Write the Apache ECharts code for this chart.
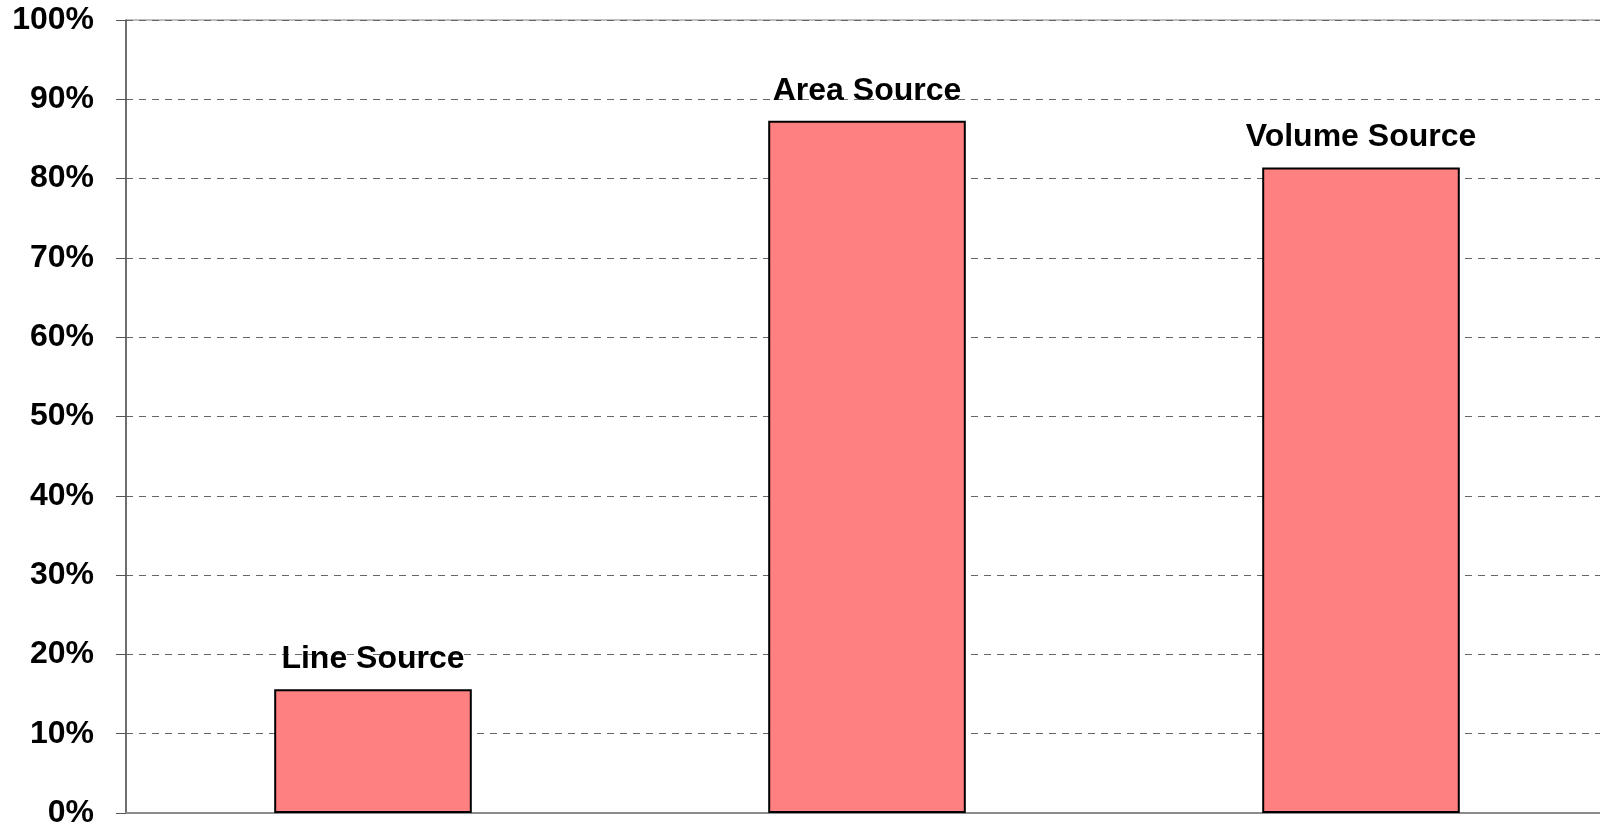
<!DOCTYPE html>
<html>
<head>
<meta charset="utf-8">
<script src="https://cdn.jsdelivr.net/npm/echarts@6/dist/echarts.min.js"></script>
<style>
  html, body { margin: 0; padding: 0; background: #fff; }
  #chart { width: 1600px; height: 829px; }
</style>
</head>
<body>
<div id="chart"></div>
<script>
// source types and their share (percent)
var categories = ['Line Source', 'Area Source', 'Volume Source']
var shares = [15.6, 87.3, 81.4]
var yTicks = [0, 10, 20, 30, 40, 50, 60, 70, 80, 90, 100]

var chart = echarts.init(document.getElementById('chart'))

var font = '"Liberation Sans", Arial, sans-serif'

chart.setOption({
    animation: false,
    grid: {
        left: 126,
        top: 20,
        bottom: 16,
        width: 1482,
        outerBoundsMode: 'none',
        containLabel: false,
        show: true,
        borderColor: '#808080',
        borderWidth: 1
    },
    xAxis: {
        type: 'category',
        data: categories,
        axisLine: { lineStyle: { color: '#8c8c8c', width: 2 } },
        axisTick: { show: false },
        axisLabel: { show: false }
    },
    yAxis: {
        type: 'value',
        min: yTicks[0],
        max: yTicks[yTicks.length - 1],
        interval: 10,
        axisLine: { show: true, lineStyle: { color: '#555', width: 1.5 } },
        axisTick: { show: true, length: 10, lineStyle: { color: '#555', width: 1 } },
        axisLabel: {
            margin: 32,
            color: '#000',
            fontFamily: font,
            fontWeight: 'bold',
            fontSize: 32,
            formatter: '{value}%'
        },
        splitLine: {
            show: true,
            lineStyle: { color: '#666', type: [7, 6], width: 1 }
        }
    },
    series: [{
        type: 'bar',
        data: shares,
        barWidth: '40%',
        itemStyle: {
            color: '#ff8080',
            borderColor: '#000',
            borderWidth: 2
        },
        label: {
            show: true,
            position: 'top',
            distance: 14,
            formatter: '{b}',
            color: '#000',
            fontFamily: font,
            fontWeight: 'bold',
            fontSize: 32
        }
    }]
})
</script>
</body>
</html>
